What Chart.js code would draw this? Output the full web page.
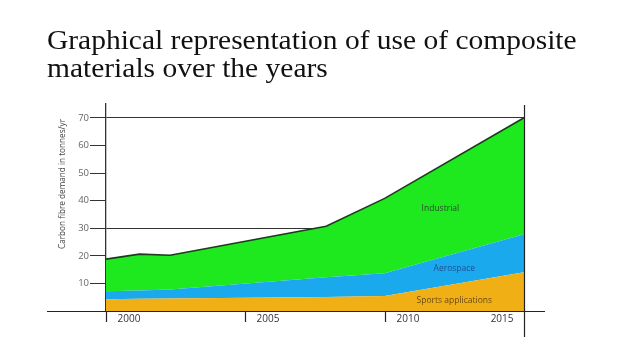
<!DOCTYPE html>
<html>
<head>
<meta charset="utf-8">
<script src="https://cdn.jsdelivr.net/npm/chart.js@4.4.1/dist/chart.umd.min.js"></script>
<style>
html,body{margin:0;padding:0;background:#fff;width:638px;height:359px;overflow:hidden;}
#title{position:absolute;left:47px;top:26px;font-family:"Liberation Serif","Times New Roman",serif;font-size:27.5px;line-height:28px;color:#111;transform:scaleX(1.072);transform-origin:0 0;white-space:nowrap;}
#wrap{position:absolute;left:0;top:0;width:638px;height:359px;}
</style>
</head>
<body>
<div id="wrap"><canvas id="c" width="638" height="359"></canvas></div>
<div id="title">Graphical representation of use of composite<br>materials over the years</div>
<script>
const years = [2000, 2001.2, 2002.3, 2007.9, 2010, 2015];
const sports = [4.3, 4.4, 4.5, 5.1, 5.4, 14.0];
const aerospace = [2.9, 3.0, 3.3, 7.1, 8.3, 13.8];
const industrial = [11.6, 13.2, 12.4, 18.5, 27.1, 42.2];
const seriesNames = ["Sports applications", "Aerospace", "Industrial"];
const xTickLabels = ["2000", "2005", "2010", "2015"];
const yTickLabels = ["10", "20", "30", "40", "50", "60", "70"];
const yTitle = "Carbon fibre demand in tonnes/yr";

const pts = arr => years.map((y, i) => ({x: y, y: arr[i]}));

const decor = {
  id: 'decor',
  afterDraw(chart) {
    const ctx = chart.ctx;
    const xs = chart.scales.x, ys = chart.scales.y;
    const ca = chart.chartArea;
    ctx.save();
    ctx.strokeStyle = '#222';
    ctx.lineWidth = 1.2;
    ctx.beginPath();
    ctx.moveTo(47, ca.bottom + 0.5);
    ctx.lineTo(545, ca.bottom + 0.5);
    ctx.stroke();
    ctx.font = '10px "Open Sans", sans-serif';
    ctx.fillStyle = '#333';
    ctx.textBaseline = 'middle';
    xTickLabels.forEach((lab, i) => {
      const v = Number(lab);
      const px = Math.round(xs.getPixelForValue(v)) + 0.5;
      ctx.beginPath();
      if (i === xTickLabels.length - 1) {
        ctx.moveTo(px, ca.top + 1);
        ctx.lineTo(px, ca.bottom + 26);
      } else {
        ctx.moveTo(px, ca.bottom);
        ctx.lineTo(px, ca.bottom + 11);
      }
      ctx.stroke();
      if (i === xTickLabels.length - 1) {
        ctx.textAlign = 'right';
        ctx.fillText(lab, px - 11, ca.bottom + 8);
      } else {
        ctx.textAlign = 'left';
        ctx.fillText(lab, px + 11, ca.bottom + 8);
      }
    });
    ctx.save();
    ctx.translate(63, 184);
    ctx.rotate(-Math.PI / 2);
    ctx.font = '8.2px "Open Sans", sans-serif';
    ctx.fillStyle = '#444';
    ctx.textAlign = 'center';
    ctx.textBaseline = 'middle';
    ctx.fillText(yTitle, 0, 0);
    ctx.restore();
    ctx.font = '8.5px "Open Sans", sans-serif';
    ctx.textAlign = 'center';
    ctx.textBaseline = 'middle';
    ctx.fillStyle = '#2d4a2d';
    ctx.fillText(seriesNames[2], xs.getPixelForValue(2012.0), ys.getPixelForValue(37));
    ctx.fillStyle = '#1b4f96';
    ctx.fillText(seriesNames[1], xs.getPixelForValue(2012.5), ys.getPixelForValue(15.5));
    ctx.fillStyle = '#6a4a12';
    ctx.fillText(seriesNames[0], xs.getPixelForValue(2012.5), ys.getPixelForValue(3.6));
    ctx.restore();
  }
};

new Chart(document.getElementById('c'), {
  type: 'line',
  data: {
    datasets: [
      {label: seriesNames[0], data: pts(sports), backgroundColor: '#f0b015', borderWidth: 0, fill: 'origin', pointRadius: 0, tension: 0, order: 1},
      {label: seriesNames[1], data: pts(aerospace), backgroundColor: '#1ba9ee', borderWidth: 0, fill: '-1', pointRadius: 0, tension: 0, order: 2},
      {label: seriesNames[2], data: pts(industrial), backgroundColor: '#1ee81e', borderColor: '#1f3a1f', borderWidth: 1.6, fill: '-1', pointRadius: 0, tension: 0, order: 3}
    ]
  },
  plugins: [decor],
  options: {
    responsive: false,
    animation: false,
    layout: {padding: {left: 0, right: 114, top: 104, bottom: 18}},
    plugins: {legend: {display: false}, tooltip: {enabled: false}, title: {display: false}},
    scales: {
      x: {
        type: 'linear', min: 2000, max: 2015,
        ticks: {display: false, stepSize: 5},
        grid: {display: false},
        border: {display: false},
        afterFit: s => { s.height = 30; }
      },
      y: {
        stacked: true,
        min: 0, max: 75,
        afterBuildTicks: s => { s.ticks = [0].concat(yTickLabels.map(Number)).concat([75]).map(v => ({value: v})); },
        ticks: {
          padding: 1,
          font: {family: '"Open Sans", sans-serif', size: 9.5},
          color: '#666',
          callback: v => yTickLabels.includes(String(v)) ? String(v) : ''
        },
        grid: {
          tickLength: 16,
          color: c => (c.tick && (c.tick.value === 30 || c.tick.value === 70)) ? '#333' : 'rgba(0,0,0,0)',
          tickColor: c => (c.tick && yTickLabels.includes(String(c.tick.value))) ? '#333' : 'rgba(0,0,0,0)',
          lineWidth: 1
        },
        border: {display: true, color: '#333', width: 1.3},
        afterFit: s => { s.width = 106; }
      }
    }
  }
});
</script>
</body>
</html>
